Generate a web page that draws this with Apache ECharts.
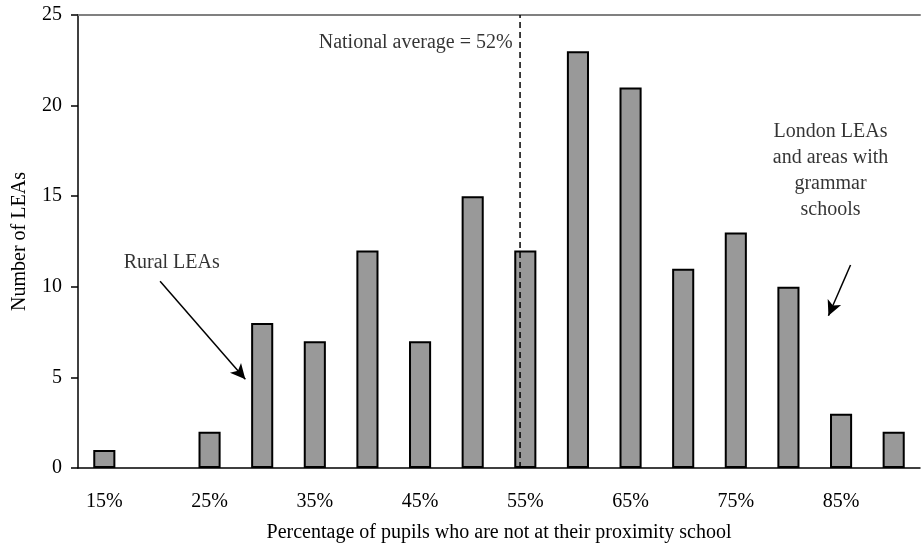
<!DOCTYPE html>
<html>
<head>
<meta charset="utf-8">
<script src="https://cdn.jsdelivr.net/npm/echarts@6/dist/echarts.min.js"></script>
<style>
  html, body { margin: 0; padding: 0; background: #fff; }
  #main { width: 921px; height: 547px; }
</style>
</head>
<body>
<div id="main"></div>
<script>
// bins of the histogram (percentage of pupils not at proximity school)
var categories = ['15%', '20%', '25%', '30%', '35%', '40%', '45%', '50%',
                  '55%', '60%', '65%', '70%', '75%', '80%', '85%', '90%'];
var counts = [1, 0, 2, 8, 7, 12, 7, 15, 12, 23, 21, 11, 13, 10, 3, 2];
var yTicks = [0, 5, 10, 15, 20, 25];

// position of the national average line on the percentage scale
var avgLine = 54.5;
// annotation arrows [from, to] in [percent, count]
var arrows = [
    [[20.3, 10.3], [28.4, 4.9]],
    [[85.9, 11.2], [83.8, 8.4]]
];
// annotation texts [percent, count, text, align]
var notes = [
    [53.8, 23.45, 'National average = 52%', 'right'],
    [21.4, 11.3, 'Rural LEAs', 'center'],
    [84.0, 16.4, 'London LEAs\nand areas with\ngrammar\nschools', 'center']
];

var font = 'Liberation Serif';
var txt = '#000';
var dom = document.getElementById('main');
var myChart = echarts.init(dom);

var option = {
    backgroundColor: '#fff',
    textStyle: { fontFamily: font },
    grid: { left: 78, right: 1, top: 15, bottom: 79, outerBoundsMode: 'none', containLabel: false },
    xAxis: [
        {
            type: 'category',
            data: categories,
            name: 'Percentage of pupils who are not at their proximity school',
            nameLocation: 'middle',
            nameGap: 55,
            nameTextStyle: { fontFamily: font, fontSize: 20, color: txt },
            axisLine: { lineStyle: { color: '#000', width: 1.5 } },
            axisTick: { interval: 0, length: 7, lineStyle: { color: '#000', width: 1.5 } },
            axisLabel: { interval: 1, margin: 24, fontFamily: font, fontSize: 20, color: txt }
        },
        {
            // hidden value scale used for the reference line and notes; its line is the top frame
            type: 'value',
            position: 'top',
            min: 12.5,
            max: 92.5,
            axisLine: { show: true, lineStyle: { color: '#808080', width: 2 } },
            axisTick: { show: false },
            axisLabel: { show: false },
            splitLine: { show: false }
        }
    ],
    yAxis: {
        type: 'value',
        min: 0,
        max: 25,
        interval: 5,
        name: 'Number of LEAs',
        nameLocation: 'middle',
        nameGap: 48,
        nameTextStyle: { fontFamily: font, fontSize: 20, color: txt },
        axisLine: { show: true, lineStyle: { color: '#000', width: 1.5 } },
        axisTick: { show: true, length: 7, lineStyle: { color: '#000', width: 1.5 } },
        axisLabel: { margin: 16, fontFamily: font, fontSize: 20, color: txt },
        splitLine: { show: false }
    },
    series: [
        {
            name: 'LEAs',
            type: 'bar',
            data: counts.map(function (v) {
                // an empty bin draws nothing, not a flat outline
                return v === 0 ? { value: v, itemStyle: { borderWidth: 0 } } : v;
            }),
            barWidth: '42%',
            itemStyle: { color: '#999999', borderColor: '#000', borderWidth: 2 },
            silent: true
        },
        {
            name: 'average',
            type: 'line',
            xAxisIndex: 1,
            data: [[avgLine, 0], [avgLine, 25]],
            symbol: 'none',
            lineStyle: { color: '#000', width: 1.5, type: [6, 4] },
            silent: true,
            z: 3,
            markLine: {
                silent: true,
                symbol: ['none', 'arrow'],
                symbolSize: [11, 15],
                lineStyle: { color: '#000', width: 1.5, type: 'solid' },
                label: { show: false },
                data: arrows.map(function (a) {
                    return [{ coord: a[0] }, { coord: a[1] }];
                })
            }
        },
        {
            name: 'notes',
            type: 'scatter',
            xAxisIndex: 1,
            symbolSize: 0,
            silent: true,
            data: notes.map(function (n) {
                return {
                    value: [n[0], n[1]],
                    label: {
                        show: true,
                        position: 'inside',
                        align: n[3],
                        verticalAlign: 'middle',
                        formatter: n[2],
                        fontFamily: font,
                        fontSize: 20,
                        lineHeight: 26,
                        color: txt
                    }
                };
            })
        }
    ]
};

myChart.setOption(option, true);
</script>
</body>
</html>
